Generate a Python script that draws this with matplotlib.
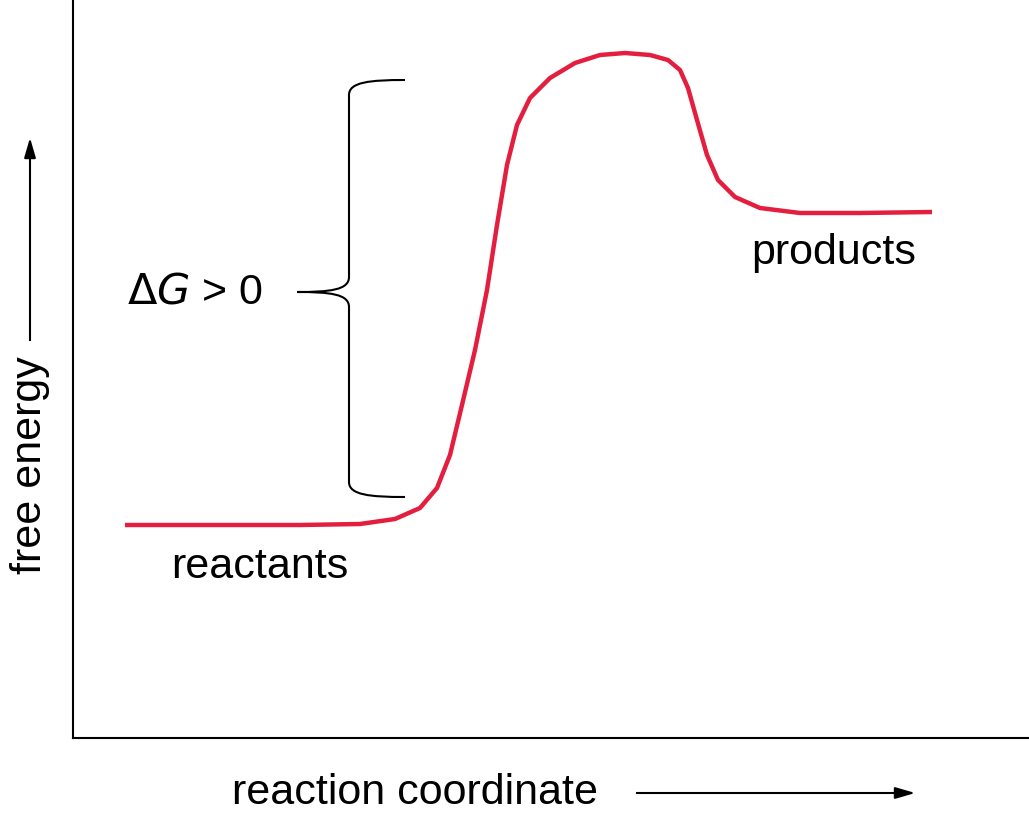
import matplotlib.pyplot as plt
from matplotlib.path import Path
from matplotlib.patches import PathPatch

plt.rcParams['font.family'] = ['Liberation Sans', 'DejaVu Sans']

# reaction profile (x: reaction coordinate, y: free energy, pixel-ish units)
curve_x = [125, 200, 300, 360, 395, 420, 437, 450, 462, 475, 487, 497, 507, 517, 530, 550,
           575, 600, 625, 650, 668, 680, 688, 697, 707, 718, 735, 760, 800, 860, 932]
curve_y = [525, 525, 525, 524, 519, 508, 488, 455, 405, 350, 290, 225, 165, 125, 98, 78,
           63, 55, 53, 55, 60, 70, 88, 120, 155, 180, 197, 208, 213, 213, 212]

bracket_top = 80
bracket_bottom = 497
bracket_mid = 292

fig = plt.figure(figsize=(10.29, 8.17), dpi=100)
ax = fig.add_axes([73 / 1029, (817 - 738) / 817, 1 - 73 / 1029, 738 / 817])
ax.set_xlim(73, 1029)
ax.set_ylim(738, 0)
ax.set_xticks([])
ax.set_yticks([])
for s in ['top', 'right']:
    ax.spines[s].set_visible(False)
for s in ['left', 'bottom']:
    ax.spines[s].set_linewidth(1.5)

ax.plot(curve_x, curve_y, color='#e41e3f', lw=3.2, solid_capstyle='butt')

# curly brace
bx = 349
verts = [(405, bracket_top), (360, bracket_top), (bx, bracket_top), (bx, bracket_top + 15),
         (bx, bracket_mid - 15), (bx, bracket_mid - 2), (330, bracket_mid), (297, bracket_mid),
         (330, bracket_mid), (bx, bracket_mid + 2), (bx, bracket_mid + 15),
         (bx, bracket_bottom - 15), (bx, bracket_bottom), (360, bracket_bottom), (405, bracket_bottom)]
codes = [Path.MOVETO, Path.CURVE3, Path.CURVE3, Path.LINETO,
         Path.LINETO, Path.CURVE4, Path.CURVE4, Path.CURVE4,
         Path.CURVE4, Path.CURVE4, Path.CURVE4,
         Path.LINETO, Path.CURVE3, Path.CURVE3, Path.LINETO]
codes[1] = Path.CURVE4; codes[2] = Path.CURVE4; codes[3] = Path.CURVE4
verts[1] = (370, bracket_top); verts[2] = (bx, bracket_top + 2); verts[3] = (bx, bracket_top + 15)
codes[12] = Path.CURVE4; codes[13] = Path.CURVE4; codes[14] = Path.CURVE4
verts[12] = (bx, bracket_bottom - 2); verts[13] = (370, bracket_bottom); verts[14] = (405, bracket_bottom)
ax.add_patch(PathPatch(Path(verts, codes), fill=False, lw=1.5, color='black', clip_on=False))

ax.text(195, bracket_mid, r'$\Delta G$ > 0', fontsize=31, ha='center', va='center')
ax.text(260, 567, 'reactants', fontsize=31, ha='center', va='center')
ax.text(834, 253, 'products', fontsize=31, ha='center', va='center')

# axis labels with arrows (figure pixel coords)
fig.text(415 / 1029, 1 - 793 / 817, 'reaction coordinate', fontsize=31, ha='center', va='center')
fig.add_artist(plt.Line2D([637 / 1029, 905 / 1029], [1 - 793 / 817] * 2, color='black', lw=1.5))
ax.annotate('', xy=(918 / 1029, 1 - 793 / 817), xytext=(900 / 1029, 1 - 793 / 817),
            xycoords='figure fraction',
            arrowprops=dict(arrowstyle='-|>,head_length=1.2,head_width=0.35', color='black', lw=1.5))
fig.text(30 / 1029, 1 - 465 / 817, 'free energy', fontsize=31, rotation=90, ha='center', va='center')
fig.add_artist(plt.Line2D([30 / 1029] * 2, [1 - 340 / 817, 1 - 150 / 817], color='black', lw=1.5))
ax.annotate('', xy=(30 / 1029, 1 - 135 / 817), xytext=(30 / 1029, 1 - 155 / 817),
            xycoords='figure fraction',
            arrowprops=dict(arrowstyle='-|>,head_length=1.2,head_width=0.35', color='black', lw=1.5))

fig.savefig('out.png', dpi=100)
